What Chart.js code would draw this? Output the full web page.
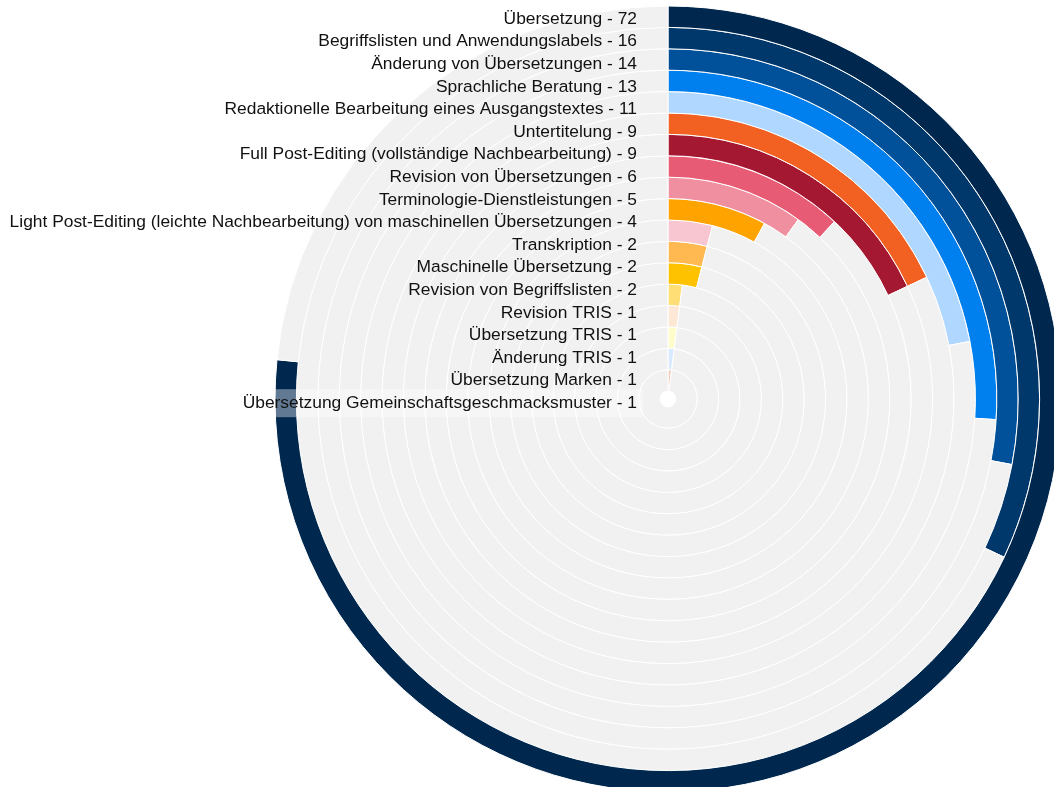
<!DOCTYPE html>
<html>
<head>
<meta charset="utf-8">
<script src="https://cdn.jsdelivr.net/npm/chart.js@4/dist/chart.umd.min.js"></script>
<style>
  html, body { margin: 0; padding: 0; background: #fff; overflow: hidden; width: 1054px; height: 787px; }
  #wrap { position: absolute; left: 0; top: 0; width: 1336px; height: 798px; }
</style>
</head>
<body>
<div id="wrap"><canvas id="c" width="1336" height="798"></canvas></div>
<script>
const categories = [
  "Übersetzung",
  "Begriffslisten und Anwendungslabels",
  "Änderung von Übersetzungen",
  "Sprachliche Beratung",
  "Redaktionelle Bearbeitung eines Ausgangstextes",
  "Untertitelung",
  "Full Post-Editing (vollständige Nachbearbeitung)",
  "Revision von Übersetzungen",
  "Terminologie-Dienstleistungen",
  "Light Post-Editing (leichte Nachbearbeitung) von maschinellen Übersetzungen",
  "Transkription",
  "Maschinelle Übersetzung",
  "Revision von Begriffslisten",
  "Revision TRIS",
  "Übersetzung TRIS",
  "Änderung TRIS",
  "Übersetzung Marken",
  "Übersetzung Gemeinschaftsgeschmacksmuster"
];
const values = [72, 16, 14, 13, 11, 9, 9, 6, 5, 4, 2, 2, 2, 1, 1, 1, 1, 1];
const scaleMax = 50;
const colors = [
  "#00284f", "#00386c", "#00519a", "#0080ef", "#b0d7ff", "#f26122",
  "#a51832", "#e85b75", "#ef8fa0", "#ffa300", "#f7c6d0", "#ffb950",
  "#ffc200", "#ffde75", "#fde8d6", "#fffccc", "#d8eaff", "#f6cdbd"
];
const trackColor = "#f1f1f1";

const labelPlugin = {
  id: "ringLabels",
  afterDraw(chart) {
    const ctx = chart.ctx;
    ctx.save();
    ctx.font = '17.4px "Liberation Sans", Arial, sans-serif';
    ctx.textAlign = "right";
    ctx.textBaseline = "middle";
    const xRight = 637;
    categories.forEach((c, i) => {
      const txt = c + " - " + values[i];
      const y = 19 + i * 22.6;
      if (i === categories.length - 1) {
        const w = ctx.measureText(txt).width;
        ctx.fillStyle = "rgba(255,255,255,0.38)";
        ctx.fillRect(xRight - w - 5, y - 14, w + 11, 28);
      }
      ctx.fillStyle = "#111111";
      ctx.fillText(txt, xRight, y);
    });
    ctx.restore();
  }
};

new Chart(document.getElementById("c"), {
  type: "doughnut",
  data: {
    labels: ["value", "rest"],
    datasets: categories.map((c, i) => ({
      label: c,
      data: [values[i], scaleMax - values[i]],
      backgroundColor: [colors[i], trackColor],
      borderColor: "#ffffff",
      borderWidth: 1
    }))
  },
  options: {
    responsive: false,
    maintainAspectRatio: false,
    animation: false,
    radius: 393,
    cutout: 8,
    plugins: { legend: { display: false }, tooltip: { enabled: false } }
  },
  plugins: [labelPlugin]
});
</script>
</body>
</html>
